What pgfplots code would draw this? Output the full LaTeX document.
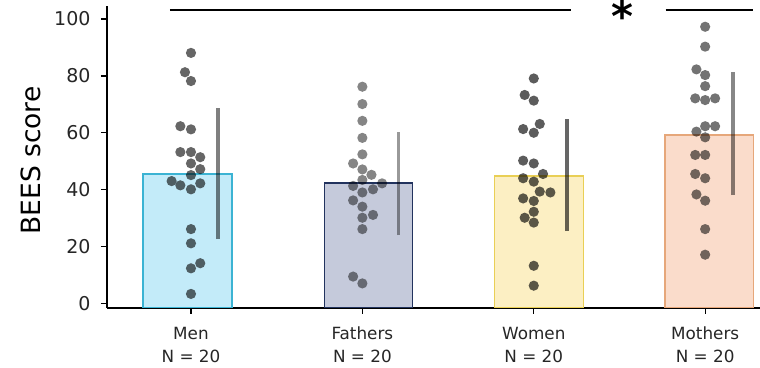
\documentclass[border=0pt]{standalone}
\usepackage{pgfplots}
\pgfplotsset{compat=1.18}
\usepackage{fontspec}
\setmainfont{DejaVu Sans}
\definecolor{menF}{HTML}{C3EBF9}\definecolor{menE}{HTML}{3BB3D3}
\definecolor{faF}{HTML}{C5CADB}\definecolor{faE}{HTML}{22335E}
\definecolor{woF}{HTML}{FCEFC3}\definecolor{woE}{HTML}{E9CF55}
\definecolor{moF}{HTML}{FADCCB}\definecolor{moE}{HTML}{E6A77A}
\definecolor{txt}{HTML}{262626}
\begin{document}
\begin{tikzpicture}
\useasboundingbox (-107pt,-59.3pt) rectangle (653pt,307.7pt);
\begin{axis}[
  scale only axis, width=653pt, height=301.7pt,
  xmin=-0.490, xmax=3.320, ymin=-1.55, ymax=104.6,
  clip=false,
  axis x line*=bottom, axis y line*=left,
  axis line style={line width=1.6pt, black},
  tick align=outside,
  major tick length=6pt,
  tick style={line width=1.2pt, black},
  ytick={0,20,40,60,80,100},
  xtick={0,1,2,3},
  xticklabels={{\strut Men\\N = 20},{\strut Fathers\\N = 20},{\strut Women\\N = 20},{\strut Mothers\\N = 20}},
  xticklabel style={align=center, font=\fontsize{16.8}{23}\selectfont, text=txt, yshift=-6pt},
  yticklabel style={font=\fontsize{19}{22}\selectfont, text=txt, xshift=-7pt},
  /pgf/number format/assume math mode=true,
  ylabel={BEES score},
  ylabel style={at={(axis description cs:-0.1164,0.488)}, anchor=center, font=\fontsize{26.5}{28}\selectfont, text=black},
  dots/.style={only marks, mark=*, mark size=5.1pt, draw=none, mark options={fill=black, draw=none, draw opacity=0, fill opacity=#1}},
]
% bars
\addplot[fill=menF, draw=menE, line width=1.3pt] coordinates {(-0.280,-1.55) (-0.280,45.5) (0.239,45.5) (0.239,-1.55)} --cycle;
\addplot[fill=faF, draw=faE, line width=1.3pt] coordinates {(0.778,-1.55) (0.778,42.3) (1.292,42.3) (1.292,-1.55)} --cycle;
\addplot[fill=woF, draw=woE, line width=1.3pt] coordinates {(1.772,-1.55) (1.772,44.8) (2.292,44.8) (2.292,-1.55)} --cycle;
\addplot[fill=moF, draw=moE, line width=1.3pt] coordinates {(2.766,-1.55) (2.766,59.2) (3.280,59.2) (3.280,-1.55)} --cycle;
% dots
\addplot[dots=0.6] coordinates {
(0,88.1) (-0.035,81.3) (0,78.2) (-0.062,62.3) (0,61.2) (-0.062,53.2) (0,53.2) (0.054,51.4) (0,49.2) (0.054,47.2) (0,45.1) (-0.113,43.0) (-0.062,41.5) (0.054,42.2) (0,40.1) (0,26.1) (0,21.1) (0,12.3) (0.054,14.1) (0,3.3)};
\addplot[dots=0.48] coordinates {
(1,76.2) (1,70.1) (1,64.2) (1,58.2) (1,52.4) (0.946,49.2) (1,47.1) (1.053,45.2) (1,43.4) (0.946,41.3) (1.115,42.2) (1.062,40.1) (1,39.0) (0.946,36.2) (1,34.0) (1.062,31.1) (1,30.1) (1,26.1) (0.946,9.4) (1,7.0)};
\addplot[dots=0.64] coordinates {
(2,79.1) (1.947,73.3) (2,71.3) (2.035,63.1) (1.938,61.3) (2,60.0) (1.938,50.2) (2,49.2) (2.054,45.5) (1.938,44.0) (2,42.8) (2.035,39.3) (2.097,39.0) (1.938,36.9) (2,36.0) (2,32.2) (1.947,30.1) (2,28.4) (2,13.2) (2,6.2)};
\addplot[dots=0.55] coordinates {
(3,97.3) (3,90.3) (2.949,82.3) (3,80.3) (3,76.4) (2.942,72.1) (3,71.5) (3.058,72.1) (3,62.3) (3.058,62.3) (2.949,60.4) (3,58.4) (2.942,52.2) (3,52.2) (2.942,45.5) (3,44.0) (2.949,38.3) (3,36.1) (3,26.1) (3,17.1)};
% error bars
\addplot[black, opacity=0.5, line width=3.5pt] coordinates {(0.158,22.6) (0.158,68.7)};
\addplot[black, opacity=0.4, line width=3.5pt] coordinates {(1.210,24.0) (1.210,60.3)};
\addplot[black, opacity=0.6, line width=3.5pt] coordinates {(2.195,25.4) (2.195,64.8)};
\addplot[black, opacity=0.47, line width=3.5pt] coordinates {(3.163,38.1) (3.163,81.3)};
% significance lines
\addplot[black, line width=1.8pt] coordinates {(-0.123,103.2) (2.217,103.2)};
\addplot[black, line width=1.8pt] coordinates {(2.770,103.2) (3.280,103.2)};
\node at (axis cs:2.52,101.0) {\fontsize{42}{42}\selectfont\bfseries *};
\end{axis}
\end{tikzpicture}
\end{document}
